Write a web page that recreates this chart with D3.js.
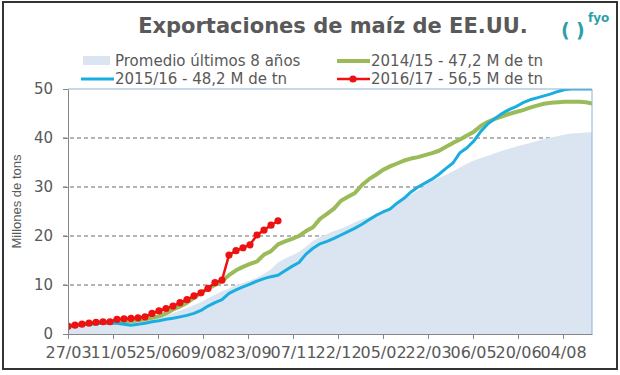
<!DOCTYPE html>
<meta charset="utf-8">
<style>
  body { margin: 0; background: #fff; }
  text { font-family: "DejaVu Sans", Verdana, sans-serif; fill: #595959; }
</style>
<script src="https://d3js.org/d3.v7.min.js"></script>
<div id="chart"></div>
<script>

  // weekly values (one point every 7 days from 27/03)
  var promedio = [1.3, 1.4, 1.5, 1.6, 1.7, 1.8, 1.9, 2.0, 2.2, 2.3, 2.5, 2.7, 3.0, 3.4, 3.8, 4.3,
    4.8, 5.3, 5.9, 6.5, 7.3, 8.0, 8.7, 9.3, 10.0, 10.4, 10.9, 11.5, 12.3, 13.2, 14.6, 15.4,
    16.0, 16.8, 17.8, 19.0, 19.8, 20.4, 21.0, 21.5, 22.1, 22.8, 23.4, 23.9, 24.5, 25.1,
    25.9, 26.8, 27.6, 28.5, 29.3, 30.3, 31.2, 31.9, 32.5, 33.2, 34.0, 34.8, 35.4, 35.9,
    36.4, 36.9, 37.4, 37.8, 38.2, 38.6, 39.0, 39.4, 39.8, 40.1, 40.4, 40.7, 40.9, 41.0, 41.1, 41.2]

  var s1415 = [1.6, 1.8, 2.0, 2.1, 2.2, 2.3, 2.3, 2.4, 2.5, 2.6, 2.8, 3.0, 3.3, 3.6, 4.2, 5.0,
    5.6, 6.4, 7.4, 8.4, 9.3, 10.0, 10.8, 12.0, 13.0, 13.7, 14.3, 14.8, 16.2, 16.9, 18.3, 18.9,
    19.4, 20.0, 21.0, 21.8, 23.5, 24.5, 25.6, 27.2, 28.0, 28.8, 30.4, 31.6, 32.5, 33.5,
    34.2, 34.8, 35.4, 35.8, 36.1, 36.5, 36.9, 37.4, 38.2, 39.0, 39.7, 40.5, 41.3, 42.5,
    43.3, 43.9, 44.4, 44.9, 45.3, 45.7, 46.2, 46.6, 47.0, 47.2, 47.3, 47.4, 47.4, 47.4, 47.3, 47.0]

  var s1516 = [1.6, 1.8, 1.9, 2.0, 2.1, 2.2, 2.2, 2.2, 2.0, 1.8, 2.0, 2.2, 2.5, 2.7, 3.0, 3.2,
    3.5, 3.8, 4.2, 4.8, 5.7, 6.4, 7.0, 8.3, 9.0, 9.6, 10.2, 10.8, 11.3, 11.7, 12.0, 12.9,
    13.8, 14.6, 16.3, 17.5, 18.4, 18.9, 19.5, 20.2, 20.9, 21.6, 22.4, 23.3, 24.2, 24.9,
    25.5, 26.7, 27.7, 29.0, 30.0, 30.8, 31.6, 32.6, 33.8, 34.9, 37.0, 38.0, 39.4, 41.4,
    42.9, 44.0, 45.0, 45.8, 46.4, 47.2, 47.8, 48.2, 48.6, 49.0, 49.5, 49.9, 50, 50, 50, 50]

  var s1617 = [1.6, 1.8, 2.0, 2.2, 2.4, 2.5, 2.5, 3.0, 3.1, 3.2, 3.3, 3.5, 4.2, 4.7, 5.2, 5.7,
    6.4, 7.0, 7.8, 8.4, 9.3, 10.5, 11.0, 16.1, 17.0, 17.6, 18.2, 20.2, 21.2, 22.2, 23.1]

  var tickDays = [0, 45, 90, 135, 180, 225, 270, 315, 360, 405, 450, 495]
  var tickLabels = ["27/03", "11/05", "25/06", "09/08", "23/09", "07/11", "22/12",
    "05/02", "22/03", "06/05", "20/06", "04/08"]
  var yTicks = [0, 10, 20, 30, 40, 50]

  var W = 620, H = 375
  var margin = { top: 89, right: 28, bottom: 41, left: 68 },
    width = W - margin.left - margin.right,
    height = H - margin.top - margin.bottom;

  var svg = d3.select("#chart").append("svg")
    .attr("width", W)
    .attr("height", H)

  // outer frame
  svg.append("rect")
    .attr("x", 3).attr("y", 2)
    .attr("width", 614).attr("height", 367)
    .attr("fill", "#fff")
    .attr("stroke", "#333")
    .attr("stroke-width", 2)

  // title + logo
  svg.append("text")
    .attr("x", 333).attr("y", 33)
    .attr("text-anchor", "middle")
    .style("font-size", "21px")
    .style("font-weight", "bold")
    .text("Exportaciones de maíz de EE.UU.")

  svg.append("text").attr("x", 561).attr("y", 37)
    .style("font-size", "19px").style("font-weight", "bold").style("fill", "#2e9fa6")
    .text("(")
  svg.append("text").attr("x", 576).attr("y", 37)
    .style("font-size", "19px").style("font-weight", "bold").style("fill", "#2e9fa6")
    .text(")")
  svg.append("text").attr("x", 588).attr("y", 22)
    .style("font-size", "12px").style("font-weight", "bold").style("fill", "#2e9fa6")
    .text("fyo")

  var g = svg.append("g")
    .attr("transform", "translate(" + margin.left + "," + margin.top + ")")

  var x = d3.scaleLinear().domain([0, 524]).range([0, width])
  var y = d3.scaleLinear().domain([0, 50]).range([height, 0])

  g.append("defs").append("clipPath").attr("id", "clip")
    .append("rect").attr("width", width).attr("height", height)

  // gridlines
  g.selectAll(".grid")
    .data(yTicks.slice(1, 5))
    .enter().append("line")
    .attr("x1", -5).attr("x2", width)
    .attr("y1", function (d) { return y(d) })
    .attr("y2", function (d) { return y(d) })
    .attr("stroke", "#6b6b6b")
    .attr("stroke-width", 1)
    .attr("stroke-dasharray", "4,3")

  var plot = g.append("g").attr("clip-path", "url(#clip)")

  // average area
  plot.append("path")
    .datum(promedio)
    .attr("fill", "#dbe5f1")
    .attr("d", d3.area()
      .x(function (d, i) { return x(i * 7) })
      .y0(y(0))
      .y1(function (d) { return y(d) }))

  var line = d3.line()
    .x(function (d, i) { return x(i * 7) })
    .y(function (d) { return y(d) })

  plot.append("path").datum(s1415)
    .attr("fill", "none").attr("stroke", "#9bbb59").attr("stroke-width", 4)
    .attr("stroke-linejoin", "round")
    .attr("d", line)

  plot.append("path").datum(s1516)
    .attr("fill", "none").attr("stroke", "#1aaee0").attr("stroke-width", 3)
    .attr("stroke-linejoin", "round")
    .attr("d", line)

  plot.append("path").datum(s1617)
    .attr("fill", "none").attr("stroke", "#ee1111").attr("stroke-width", 2.5)
    .attr("d", line)

  plot.selectAll(".dot")
    .data(s1617)
    .enter().append("circle")
    .attr("cx", function (d, i) { return x(i * 7) })
    .attr("cy", function (d) { return y(d) })
    .attr("r", 3.6)
    .attr("fill", "#ee1111")

  // plot border (top/right)
  g.append("path")
    .attr("d", "M0,0H" + width + "V" + height)
    .attr("fill", "none")
    .attr("stroke", "#8fb0d6")

  // axes
  var xAxis = g.append("g")
    .attr("transform", "translate(0," + height + ")")
    .call(d3.axisBottom(x).tickValues(tickDays)
      .tickFormat(function (d, i) { return tickLabels[i] })
      .tickSize(5).tickSizeOuter(0))
  xAxis.select(".domain").attr("stroke", "#868686")
  xAxis.selectAll(".tick line").attr("stroke", "#868686")
  xAxis.selectAll("text")
    .attr("dy", "1.0em")
    .style("font-size", "16px")
    .style("font-family", "DejaVu Sans")
    .attr("fill", "#595959")

  var yAxis = g.append("g")
    .call(d3.axisLeft(y).tickValues(yTicks).tickSize(5).tickSizeOuter(0))
  yAxis.select(".domain").attr("stroke", "#868686")
  yAxis.selectAll(".tick line").attr("stroke", "#868686")
  yAxis.selectAll("text")
    .attr("x", -15)
    .style("font-size", "15px")
    .style("font-family", "DejaVu Sans")
    .attr("fill", "#595959")

  svg.append("text")
    .attr("transform", "translate(21," + (margin.top + height / 2 - 10) + ") rotate(-90)")
    .attr("text-anchor", "middle")
    .style("font-family", "Liberation Sans, Arial, sans-serif")
    .style("font-size", "13px")
    .text("Millones de tons")

  // legend
  var leg = svg.append("g").style("font-size", "15px")
  leg.append("rect").attr("x", 83).attr("y", 56).attr("width", 27).attr("height", 9)
    .attr("fill", "#dbe5f1")
  leg.append("text").attr("x", 115).attr("y", 66).text("Promedio últimos 8 años")

  leg.append("line").attr("x1", 337).attr("x2", 370).attr("y1", 61).attr("y2", 61)
    .attr("stroke", "#9bbb59").attr("stroke-width", 4)
  leg.append("text").attr("x", 371).attr("y", 66).text("2014/15 - 47,2 M de tn")

  leg.append("line").attr("x1", 81).attr("x2", 114).attr("y1", 79).attr("y2", 79)
    .attr("stroke", "#1aaee0").attr("stroke-width", 3)
  leg.append("text").attr("x", 115).attr("y", 84).text("2015/16 - 48,2 M de tn")

  leg.append("line").attr("x1", 337).attr("x2", 370).attr("y1", 79).attr("y2", 79)
    .attr("stroke", "#ee1111").attr("stroke-width", 2.5)
  leg.append("circle").attr("cx", 353).attr("cy", 79).attr("r", 3.6).attr("fill", "#ee1111")
  leg.append("text").attr("x", 371).attr("y", 84).text("2016/17 - 56,5 M de tn")

</script>
